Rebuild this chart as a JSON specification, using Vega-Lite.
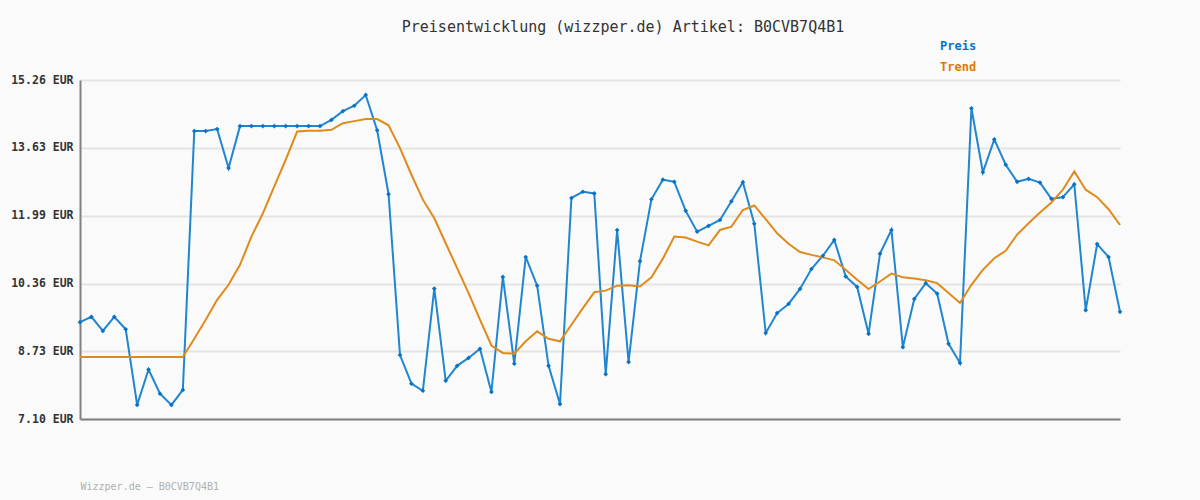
{
  "$schema": "https://vega.github.io/schema/vega-lite/v6.json",
  "width": 1040,
  "height": 339,
  "autosize": "none",
  "padding": {"left": 80, "top": 80, "right": 80, "bottom": 81},
  "background": "#fafafa",
  "title": {
    "text": "Preisentwicklung (wizzper.de) Artikel: B0CVB7Q4B1",
    "font": "DejaVu Sans Mono",
    "fontSize": 15,
    "fontWeight": "normal",
    "color": "#333333",
    "anchor": "middle",
    "dx": 23,
    "offset": 5
  },
  "config": {
    "view": {"stroke": null},
    "font": "DejaVu Sans Mono"
  },
  "data": {
    "values": [
      {"i":1,"Preis":9.43,"Trend":8.59},{"i":2,"Preis":9.56,"Trend":8.59},{"i":3,"Preis":9.22,"Trend":8.59},{"i":4,"Preis":9.56,"Trend":8.59},{"i":5,"Preis":9.26,"Trend":8.59},
      {"i":6,"Preis":7.44,"Trend":8.59},{"i":7,"Preis":8.29,"Trend":8.59},{"i":8,"Preis":7.71,"Trend":8.59},{"i":9,"Preis":7.44,"Trend":8.59},{"i":10,"Preis":7.80,"Trend":8.59},
      {"i":11,"Preis":14.03,"Trend":9.03},{"i":12,"Preis":14.03,"Trend":9.49},{"i":13,"Preis":14.08,"Trend":9.97},{"i":14,"Preis":13.14,"Trend":10.33},{"i":15,"Preis":14.15,"Trend":10.81},
      {"i":16,"Preis":14.15,"Trend":11.49},{"i":17,"Preis":14.15,"Trend":12.05},{"i":18,"Preis":14.15,"Trend":12.70},{"i":19,"Preis":14.15,"Trend":13.34},{"i":20,"Preis":14.15,"Trend":14.02},
      {"i":21,"Preis":14.15,"Trend":14.04},{"i":22,"Preis":14.15,"Trend":14.04},{"i":23,"Preis":14.30,"Trend":14.06},{"i":24,"Preis":14.51,"Trend":14.22},{"i":25,"Preis":14.64,"Trend":14.27},
      {"i":26,"Preis":14.90,"Trend":14.32},{"i":27,"Preis":14.05,"Trend":14.32},{"i":28,"Preis":12.51,"Trend":14.17},{"i":29,"Preis":8.64,"Trend":13.62},{"i":30,"Preis":7.95,"Trend":12.98},
      {"i":31,"Preis":7.78,"Trend":12.38},{"i":32,"Preis":10.24,"Trend":11.93},{"i":33,"Preis":8.02,"Trend":11.33},{"i":34,"Preis":8.38,"Trend":10.73},{"i":35,"Preis":8.57,"Trend":10.13},
      {"i":36,"Preis":8.79,"Trend":9.49},{"i":37,"Preis":7.75,"Trend":8.87},{"i":38,"Preis":10.52,"Trend":8.69},{"i":39,"Preis":8.43,"Trend":8.67},{"i":40,"Preis":11.00,"Trend":8.97},
      {"i":41,"Preis":10.31,"Trend":9.21},{"i":42,"Preis":8.38,"Trend":9.03},{"i":43,"Preis":7.46,"Trend":8.97},{"i":44,"Preis":12.42,"Trend":9.37},{"i":45,"Preis":12.57,"Trend":9.77},
      {"i":46,"Preis":12.53,"Trend":10.15},{"i":47,"Preis":8.18,"Trend":10.19},{"i":48,"Preis":11.65,"Trend":10.31},{"i":49,"Preis":8.47,"Trend":10.32},{"i":50,"Preis":10.90,"Trend":10.29},
      {"i":51,"Preis":12.39,"Trend":10.51},{"i":52,"Preis":12.86,"Trend":10.96},{"i":53,"Preis":12.81,"Trend":11.49},{"i":54,"Preis":12.11,"Trend":11.47},{"i":55,"Preis":11.61,"Trend":11.37},
      {"i":56,"Preis":11.75,"Trend":11.28},{"i":57,"Preis":11.89,"Trend":11.65},{"i":58,"Preis":12.34,"Trend":11.73},{"i":59,"Preis":12.80,"Trend":12.13},{"i":60,"Preis":11.80,"Trend":12.24},
      {"i":61,"Preis":9.17,"Trend":11.91},{"i":62,"Preis":9.65,"Trend":11.57},{"i":63,"Preis":9.87,"Trend":11.32},{"i":64,"Preis":10.23,"Trend":11.12},{"i":65,"Preis":10.71,"Trend":11.05},
      {"i":66,"Preis":11.03,"Trend":10.99},{"i":67,"Preis":11.41,"Trend":10.92},{"i":68,"Preis":10.53,"Trend":10.69},{"i":69,"Preis":10.28,"Trend":10.45},{"i":70,"Preis":9.15,"Trend":10.23},
      {"i":71,"Preis":11.08,"Trend":10.41},{"i":72,"Preis":11.65,"Trend":10.60},{"i":73,"Preis":8.83,"Trend":10.51},{"i":74,"Preis":9.99,"Trend":10.48},{"i":75,"Preis":10.37,"Trend":10.44},
      {"i":76,"Preis":10.12,"Trend":10.37},{"i":77,"Preis":8.91,"Trend":10.13},{"i":78,"Preis":8.45,"Trend":9.89},{"i":79,"Preis":14.58,"Trend":10.33},{"i":80,"Preis":13.04,"Trend":10.69},
      {"i":81,"Preis":13.83,"Trend":10.97},{"i":82,"Preis":13.22,"Trend":11.15},{"i":83,"Preis":12.81,"Trend":11.54},{"i":84,"Preis":12.88,"Trend":11.81},{"i":85,"Preis":12.79,"Trend":12.07},
      {"i":86,"Preis":12.40,"Trend":12.31},{"i":87,"Preis":12.44,"Trend":12.62},{"i":88,"Preis":12.75,"Trend":13.06},{"i":89,"Preis":9.72,"Trend":12.62},{"i":90,"Preis":11.31,"Trend":12.44},
      {"i":91,"Preis":11.00,"Trend":12.15},{"i":92,"Preis":9.68,"Trend":11.77}
    ]
  },
  "transform": [{"fold": ["Preis", "Trend"], "as": ["Serie", "Wert"]}],
  "encoding": {
    "x": {
      "field": "i",
      "type": "quantitative",
      "scale": {"domain": [1, 92], "nice": false, "zero": false},
      "axis": {
        "title": "Wizzper.de – B0CVB7Q4B1",
        "titleFont": "DejaVu Sans Mono",
        "titleFontSize": 10,
        "titleFontWeight": "normal",
        "titleColor": "#b0b0b0",
        "titleAnchor": "start",
        "titleAlign": "left",
        "titlePadding": 62,
        "labels": false,
        "ticks": false,
        "grid": false,
        "domainColor": "#808080",
        "domainWidth": 2
      }
    },
    "y": {
      "field": "Wert",
      "type": "quantitative",
      "scale": {"domain": [7.10, 15.26], "nice": false, "zero": false},
      "axis": {
        "title": null,
        "values": [7.10, 8.73, 10.36, 11.99, 13.63, 15.26],
        "labelExpr": "format(datum.value, '.2f') + ' EUR'",
        "labelFont": "DejaVu Sans Mono",
        "labelFontSize": 11.5,
        "labelFontWeight": "bold",
        "labelColor": "#333333",
        "labelPadding": 7,
        "ticks": false,
        "grid": true,
        "gridColor": "#e4e4e4",
        "gridWidth": 2,
        "domainColor": "#808080",
        "domainWidth": 2
      }
    }
  },
  "layer": [
    {
      "mark": {"type": "line", "strokeWidth": 2, "interpolate": "linear"},
      "encoding": {
        "color": {
          "field": "Serie",
          "type": "nominal",
          "scale": {"domain": ["Preis", "Trend"], "range": ["#2186d0", "#e08a1c"]},
          "legend": {
            "title": null,
            "orient": "none",
            "legendX": 848,
            "legendY": -40,
            "symbolSize": 0,
            "symbolStrokeWidth": 0,
            "symbolOpacity": 0,
            "labelOffset": 0,
            "labelFont": "DejaVu Sans Mono",
            "labelFontSize": 12,
            "labelFontWeight": "bold",
            "rowPadding": 9,
            "encode": {
              "labels": {
                "update": {
                  "fill": {"signal": "datum.label == 'Preis' ? '#0a72c4' : '#de7a00'"}
                }
              }
            }
          }
        }
      }
    },
    {
      "transform": [{"filter": "datum.Serie == 'Preis'"}],
      "mark": {"type": "point", "shape": "diamond", "filled": true, "size": 22, "color": "#0a72c4", "opacity": 1}
    }
  ]
}
